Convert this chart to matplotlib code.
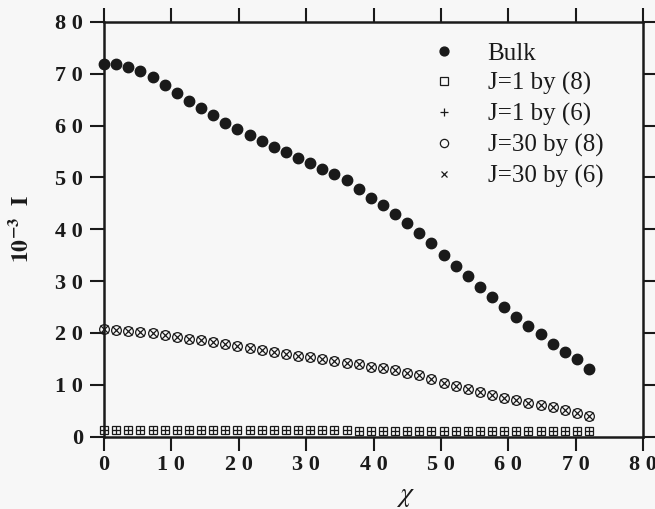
import matplotlib
matplotlib.use("Agg")
import matplotlib.pyplot as plt
from matplotlib.ticker import FixedLocator, FixedFormatter

# chi (deg), 0..72 in 1.8 steps
chi = [0.0, 1.8, 3.6, 5.4, 7.2, 9.0, 10.8, 12.6, 14.4, 16.2,
       18.0, 19.8, 21.6, 23.4, 25.2, 27.0, 28.8, 30.6, 32.4, 34.2,
       36.0, 37.8, 39.6, 41.4, 43.2, 45.0, 46.8, 48.6, 50.4, 52.2,
       54.0, 55.8, 57.6, 59.4, 61.2, 63.0, 64.8, 66.6, 68.4, 70.2, 72.0]

bulk = [71.9, 71.9, 71.3, 70.5, 69.3, 67.8, 66.3, 64.8, 63.4, 62.1,
        60.6, 59.4, 58.1, 57.0, 55.9, 54.9, 53.7, 52.8, 51.6, 50.6,
        49.5, 47.8, 46.1, 44.6, 43.0, 41.3, 39.2, 37.3, 35.0, 33.0,
        30.9, 28.8, 26.9, 24.9, 23.1, 21.3, 19.7, 17.9, 16.4, 14.9, 13.0]

j1_eq8 = [1.3, 1.3, 1.3, 1.3, 1.3, 1.3, 1.3, 1.3, 1.3, 1.3,
          1.25, 1.25, 1.25, 1.25, 1.25, 1.2, 1.2, 1.2, 1.2, 1.2,
          1.2, 1.15, 1.15, 1.15, 1.15, 1.15, 1.1, 1.1, 1.1, 1.1,
          1.1, 1.05, 1.05, 1.05, 1.05, 1.05, 1.0, 1.0, 1.0, 1.0, 1.0]
j1_eq6 = j1_eq8

j30_eq8 = [20.7, 20.6, 20.4, 20.2, 19.9, 19.6, 19.3, 18.9, 18.6, 18.2,
           17.9, 17.5, 17.1, 16.7, 16.3, 15.9, 15.6, 15.3, 14.9, 14.6,
           14.2, 13.9, 13.5, 13.2, 12.8, 12.3, 11.8, 11.1, 10.3, 9.8,
           9.1, 8.5, 8.0, 7.4, 7.0, 6.5, 6.1, 5.6, 5.2, 4.6, 4.0]
j30_eq6 = j30_eq8

tick_vals = [0, 10, 20, 30, 40, 50, 60, 70, 80]
tick_labels = ["0", "1 0", "2 0", "3 0", "4 0", "5 0", "6 0", "7 0", "8 0"]

plt.rcParams["font.family"] = ["Liberation Serif", "DejaVu Serif"]
plt.rcParams["mathtext.fontset"] = "stix"

ink = "#1a1a1a"
fig = plt.figure(figsize=(6.55, 5.09), dpi=100, facecolor="#f7f7f7")
ax = fig.add_axes([104 / 655, 1 - 436.5 / 509, 539 / 655, 414.5 / 509])
ax.set_facecolor("#f7f7f7")

ax.plot(chi, bulk, "o", color=ink, ms=7.5, mec=ink, label="Bulk", clip_on=False, zorder=3)
ax.plot(chi, j1_eq8, "s", color=ink, ms=6.0, mfc="none", mew=0.9, label="J=1 by (8)", clip_on=False)
ax.plot(chi, j1_eq6, "+", color=ink, ms=6.0, mew=0.9, label="J=1 by (6)", clip_on=False)
ax.plot(chi, j30_eq8, "o", color=ink, ms=7.0, mfc="none", mew=0.9, label="J=30 by (8)", clip_on=False)
ax.plot(chi, j30_eq6, "x", color=ink, ms=5.2, mew=0.9, label="J=30 by (6)", clip_on=False)

ax.set_xlim(0, 80)
ax.set_ylim(0, 80)
for axis in (ax.xaxis, ax.yaxis):
    axis.set_major_locator(FixedLocator(tick_vals))
    axis.set_major_formatter(FixedFormatter(tick_labels))

ax.tick_params(which="both", direction="out", length=10, width=1.5, color=ink,
               top=True, right=True, labelsize=16, labelcolor=ink)
ax.tick_params(axis="x", pad=3)
ax.tick_params(axis="y", pad=5)
for lab in ax.get_xticklabels() + ax.get_yticklabels():
    lab.set_fontweight("bold")
for sp in ax.spines.values():
    sp.set_linewidth(1.8)
    sp.set_color(ink)

ax.set_xlabel(r"$\chi$", fontsize=20, color=ink)
ax.xaxis.set_label_coords((405 - 104) / 539, -0.115)
ax.set_ylabel(r"$\mathbf{10^{-3}\ \ I}$", fontsize=17, color=ink)
ax.yaxis.set_label_coords(-(104 - 33) / 539, 0.5)

leg = ax.legend(loc="upper left", bbox_to_anchor=(425 / 655, 1 - 42 / 509),
                bbox_transform=fig.transFigure, frameon=False, fontsize=18,
                handlelength=1.5, handletextpad=1.0, labelspacing=0.31,
                borderpad=0, borderaxespad=0, markerscale=0.85)
for t in leg.get_texts():
    t.set_color(ink)

fig.savefig("out.png", dpi=100, facecolor=fig.get_facecolor())
